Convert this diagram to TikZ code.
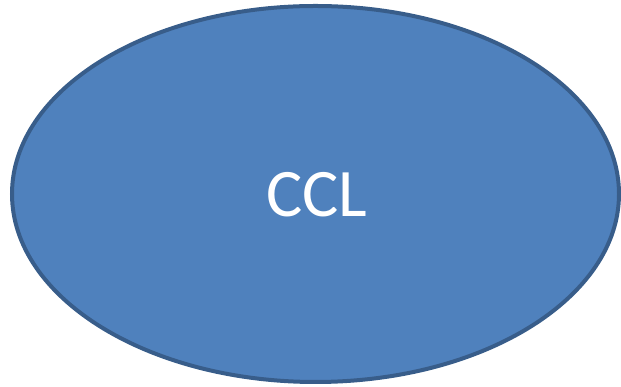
\documentclass[tikz,border=0pt]{standalone}
\usepackage{fontspec}
\setmainfont{Carlito}
\definecolor{fillblue}{HTML}{4F81BD}
\definecolor{edgeblue}{HTML}{385D8A}
\begin{document}
\begin{tikzpicture}[x=1pt,y=1pt,
  blob/.style={fill=fillblue,draw=edgeblue,line width=4pt},
  lbl/.style={text=white,font=\fontsize{68}{80}\selectfont,inner sep=0pt,anchor=base}]
\useasboundingbox (0,0) rectangle (621,387);
\path[blob] (315.5,193) ellipse [x radius=303.5, y radius=188];
\node[lbl] (ccl) at (317,170) {CCL};
\end{tikzpicture}
\end{document}
